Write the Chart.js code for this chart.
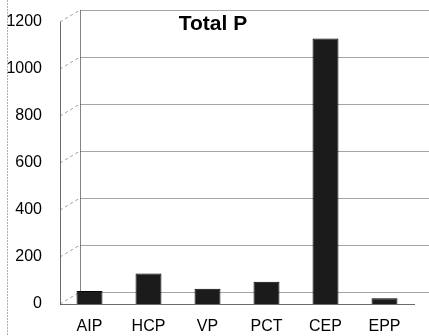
<!DOCTYPE html>
<html>
<head>
<meta charset="utf-8">
<script src="https://cdn.jsdelivr.net/npm/chart.js@4"></script>
<style>
  body { margin: 0; background: #fff; }
  #wrap { width: 429px; height: 336px; position: relative; }
</style>
</head>
<body>
<div id="wrap"><canvas id="grafico" width="429" height="336"></canvas></div>
<script>
// dados
const categorias = ['AIP', 'HCP', 'VP', 'PCT', 'CEP', 'EPP'];
const valoresP = [55, 130, 65, 95, 1130, 25];
const ticksY = [0, 200, 400, 600, 800, 1000, 1200];
const tituloGrafico = 'Total P';

// parede de fundo "3D": grade deslocada + diagonais
const paredeFundo = {
  id: 'paredeFundo',
  beforeDatasetsDraw(chart) {
    const ctx = chart.ctx;
    const area = chart.chartArea;
    const y = chart.scales.y;
    const dx = 20, dy = -12;
    ctx.save();
    ticksY.forEach(v => {
      const py = y.getPixelForValue(v);
      // linha da grade na parede de fundo
      ctx.strokeStyle = 'rgba(90,90,90,0.55)';
      ctx.lineWidth = 1;
      ctx.setLineDash([]);
      ctx.beginPath();
      ctx.moveTo(area.left + dx, py + dy + 0.5);
      ctx.lineTo(429, py + dy + 0.5);
      ctx.stroke();
      // diagonal tracejada
      ctx.setLineDash([3, 3]);
      ctx.strokeStyle = 'rgba(90,90,90,0.6)';
      ctx.beginPath();
      ctx.moveTo(area.left, py);
      ctx.lineTo(area.left + dx, py + dy);
      ctx.stroke();
    });
    ctx.setLineDash([]);
    ctx.strokeStyle = 'rgba(80,80,80,0.7)';
    ctx.beginPath();
    ctx.moveTo(area.left + dx + 0.5, y.getPixelForValue(1200) + dy);
    ctx.lineTo(area.left + dx + 0.5, y.getPixelForValue(0) + dy);
    ctx.stroke();
    // titulo dentro da area
    ctx.fillStyle = '#000';
    ctx.font = 'bold 21px "Liberation Sans", Arial, sans-serif';
    ctx.textAlign = 'center';
    ctx.textBaseline = 'middle';
    ctx.fillText(tituloGrafico, 213, 24);
    // borda esquerda do scan
    ctx.strokeStyle = 'rgba(120,120,120,0.6)';
    ctx.setLineDash([2, 1]);
    ctx.beginPath();
    ctx.moveTo(7.5, 0);
    ctx.lineTo(7.5, 336);
    ctx.stroke();
    ctx.restore();
  }
};

new Chart(document.getElementById('grafico').getContext('2d'), {
  type: 'bar',
  data: {
    labels: categorias,
    datasets: [{
      label: tituloGrafico,
      data: valoresP,
      backgroundColor: '#1b1b1b',
      borderColor: '#000',
      borderWidth: 1,
      barPercentage: 0.44,
      categoryPercentage: 1.0
    }]
  },
  options: {
    responsive: false,
    animation: false,
    layout: { padding: { left: 0, right: 15, top: 22, bottom: 0 } },
    plugins: {
      legend: { display: false },
      title: { display: false },
      tooltip: { enabled: false }
    },
    scales: {
      y: {
        min: 0,
        max: 1200,
        afterFit(scale) { scale.width = 60; },
        afterBuildTicks(scale) { scale.ticks = ticksY.map(v => ({ value: v })); },
        ticks: {
          color: '#000',
          padding: 10,
          callback: v => String(v),
          font: { size: 16, family: '"Liberation Sans", Arial, sans-serif' }
        },
        grid: { display: false },
        border: { display: true, color: 'rgba(70,70,70,0.8)' }
      },
      x: {
        afterFit(scale) { scale.height = 32; },
        ticks: {
          color: '#000',
          padding: 5,
          font: { size: 16, family: '"Liberation Sans", Arial, sans-serif' }
        },
        grid: { display: false },
        border: { display: true, color: 'rgba(70,70,70,0.8)' }
      }
    }
  },
  plugins: [paredeFundo]
});
</script>
</body>
</html>
